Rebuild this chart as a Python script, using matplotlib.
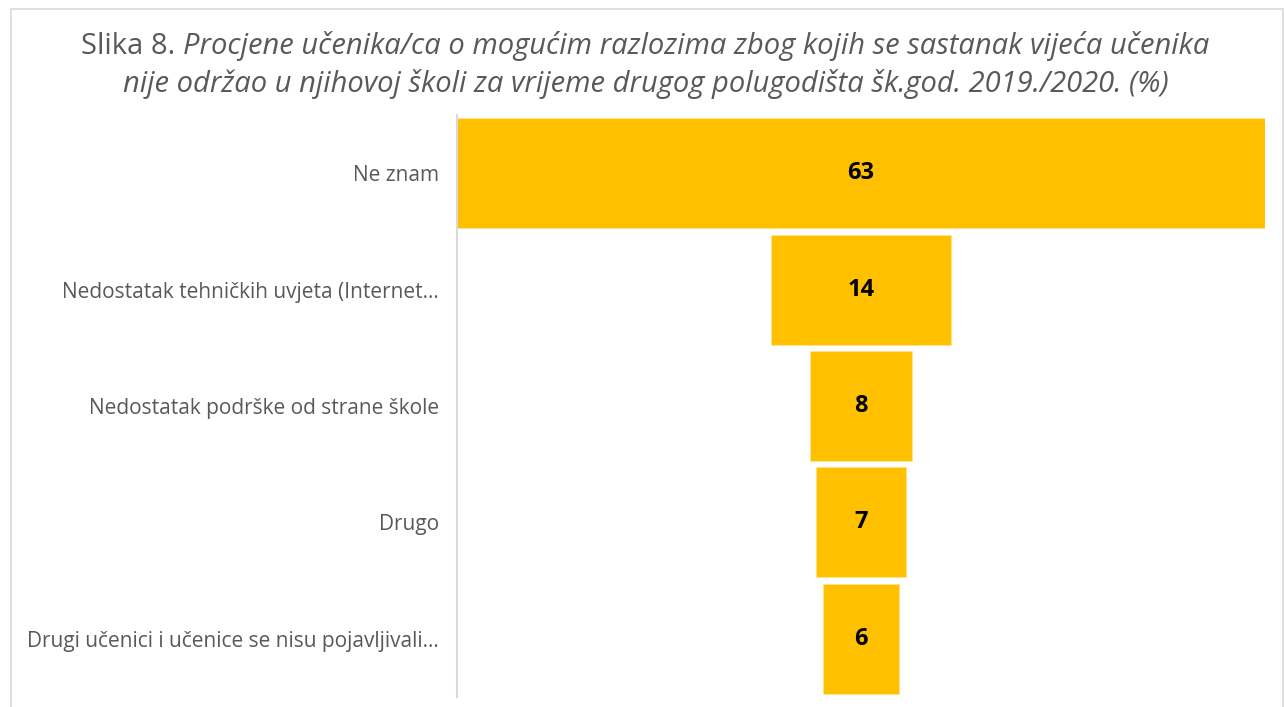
import matplotlib.pyplot as plt
import matplotlib.patches as patches

# podaci
kategorije = ['Ne znam',
              'Nedostatak tehničkih uvjeta (Internet…',
              'Nedostatak podrške od strane škole',
              'Drugo',
              'Drugi učenici i učenice se nisu pojavljivali…']
vrijednosti = [63, 14, 8, 7, 6]

naslov_a = 'Slika 8. '
naslov_b = 'Procjene učenika/ca o mogućim razlozima zbog kojih se sastanak vijeća učenika'
naslov_c = 'nije održao u njihovoj školi za vrijeme drugog polugodišta šk.god. 2019./2020. (%)'

plt.rcParams['font.family'] = ['Open Sans', 'DejaVu Sans']

W, H = 1284, 707
fig = plt.figure(figsize=(W / 100, H / 100), dpi=100)
r = fig.canvas.get_renderer()

# okvir oko slike
fig.patches.append(patches.Rectangle((11 / W, -0.01), (1283 - 11) / W, 1 - 9 / H + 0.01,
                                     transform=fig.transFigure, fill=False,
                                     edgecolor='#d9d9d9', linewidth=1.2))

# naslov - prvi red u dva stila, centriran
fs = 21
ta = fig.text(0, 1 - 46 / H, naslov_a, ha='left', va='center', fontsize=fs, color='#595959')
tb = fig.text(0, 1 - 46 / H, naslov_b, ha='left', va='center', fontsize=fs, color='#595959',
              style='italic')
wa = ta.get_window_extent(r).width
wb = tb.get_window_extent(r).width
x0 = 645 - (wa + wb) / 2
ta.set_x(x0 / W)
tb.set_x((x0 + wa) / W)
fig.text(646 / W, 1 - 84 / H, naslov_c, ha='center', va='center', fontsize=fs, color='#595959',
         style='italic')

ax = fig.add_axes([457 / W, 1 - 697 / H, (1265 - 457) / W, (697 - 115) / H])
y = list(range(len(vrijednosti)))
lijevo = [-v / 2 for v in vrijednosti]
ax.barh(y, vrijednosti, left=lijevo, height=0.945, color='#ffc000', edgecolor='#ffe38a', linewidth=0.6)
for i, v in enumerate(vrijednosti):
    ax.text(0, i, str(v), ha='center', va='center', fontsize=17, fontweight='bold', color='black')

ax.set_xlim(-31.5, 31.5)
ax.set_ylim(len(vrijednosti) - 0.5, -0.5)
ax.set_yticks(y)
ax.set_yticklabels(kategorije, fontsize=15, color='#595959')
ax.tick_params(axis='y', length=0, pad=13)
ax.set_xticks([])
for s in ['top', 'right', 'bottom']:
    ax.spines[s].set_visible(False)
ax.spines['left'].set_color('#d9d9d9')
ax.spines['left'].set_linewidth(1.5)

plt.savefig('out.png', dpi=100)
